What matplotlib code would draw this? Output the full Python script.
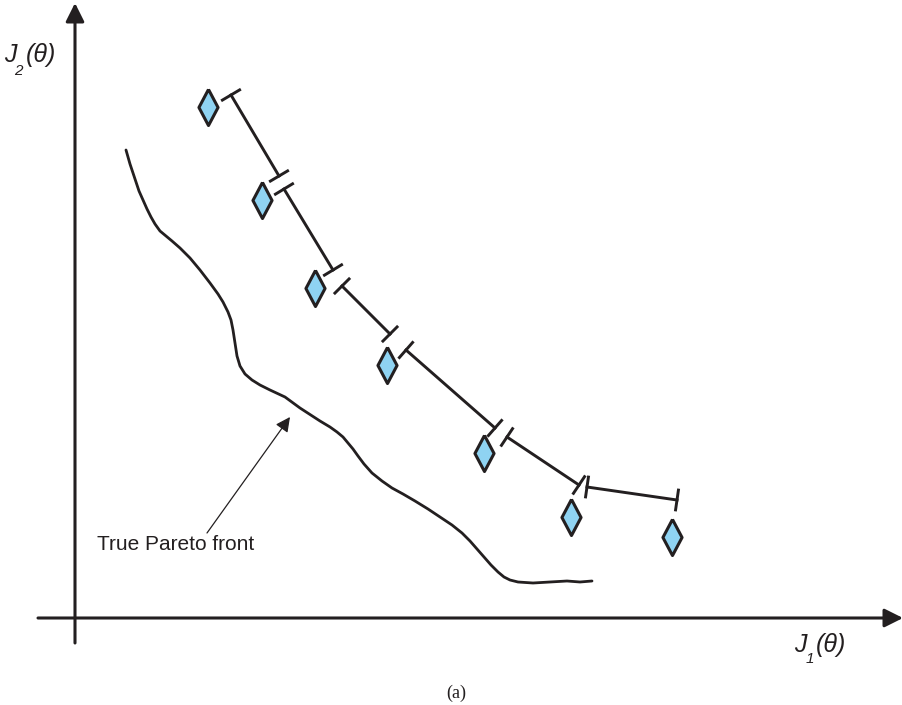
import numpy as np
import matplotlib as mpl
import matplotlib.pyplot as plt

# all coordinates are in picture units (x right, y down)
diamond_x = [208, 262, 315, 387, 484, 571, 672]
diamond_y = [107, 200, 288, 365, 453, 517, 537]

seg_x0 = [231, 284, 342, 406, 507, 587]
seg_y0 = [95, 189, 286, 350, 437, 487]
seg_x1 = [279, 333, 390, 495, 579, 677]
seg_y1 = [176, 270, 334, 428, 485, 500]

front_x = [126, 128, 130, 133, 136, 139, 143, 147, 151, 155, 160, 166, 172,
           180, 190, 200, 210, 218, 223, 228, 231, 233, 235, 237, 240, 245,
           252, 260, 270, 285, 300, 320, 330, 337, 343, 348, 353, 358, 364,
           372, 382, 392, 403, 415, 428, 440, 452, 462, 470, 477, 484, 491,
           498, 504, 510, 518, 533, 550, 567, 580, 592]
front_y = [150, 157, 164, 173, 182, 191, 200, 209, 217, 224, 231, 236, 241,
           248, 258, 270, 283, 294, 302, 312, 320, 330, 343, 356, 366, 374,
           380, 385, 390, 397, 408, 421, 427, 432, 437, 443, 449, 456, 464,
           473, 481, 488, 494, 501, 509, 517, 525, 533, 541, 549, 557, 565,
           572, 577, 580, 582, 583, 582, 581, 582, 581]

ink = '#231f20'
dpi = 100
fig = plt.figure(dpi=dpi, figsize=(903 / dpi, 705 / dpi))
ax = fig.add_axes([0, 0, 1, 1])
ax.set_xlim(0, 903)
ax.set_ylim(705, 0)
ax.axis('off')

# axes with arrows
arrow = dict(arrowstyle='-|>', lw=2.2, color=ink,
             mutation_scale=28, shrinkA=0, shrinkB=0)
ax.annotate('', xy=(75, 3), xytext=(75, 643), arrowprops=arrow)
ax.annotate('', xy=(903, 618), xytext=(38, 618), arrowprops=arrow)

# axis labels: J, subscript, (theta)
lab = dict(family='Liberation Sans', style='italic', color=ink,
           ha='left', va='baseline')
ax.text(4, 62, 'J', fontsize=18, **lab)
ax.text(14, 75, '2', fontsize=11, **lab)
ax.text(26, 62, '(θ)', fontsize=18, **lab)
ax.text(794, 652, 'J', fontsize=18, **lab)
ax.text(806, 663, '1', fontsize=11, **lab)
ax.text(816, 652, '(θ)', fontsize=18, **lab)

# true front
ax.plot(front_x, front_y, color=ink, lw=2.0, solid_capstyle='round',
        solid_joinstyle='round')

# segments with end caps
cap = 10
for x0, y0, x1, y1 in zip(seg_x0, seg_y0, seg_x1, seg_y1):
    ax.plot([x0, x1], [y0, y1], color=ink, lw=2.1)
    d = np.array([x1 - x0, y1 - y0], dtype=float)
    n = np.array([-d[1], d[0]]) / np.hypot(*d)
    for px, py in ((x0, y0), (x1, y1)):
        ax.plot([px - cap * n[0], px + cap * n[0]],
                [py - cap * n[1], py + cap * n[1]],
                color=ink, lw=2.1)

# diamonds
diamond = [(0, 1), (0.53, 0), (0, -1), (-0.53, 0), (0, 1)]
ax.plot(diamond_x, diamond_y, linestyle='none', marker=diamond,
        markersize=26, markerfacecolor='#8fd3f2', markeredgecolor=ink,
        markeredgewidth=2.2)

# annotation
ax.annotate('', xy=(290, 417), xytext=(207, 533),
            arrowprops=dict(arrowstyle='-|>', lw=0.9, color=ink,
                            mutation_scale=22, shrinkA=0, shrinkB=0))
ax.text(97, 545, 'True Pareto front', fontsize=15, family='Liberation Sans',
        ha='left', va='center', color=ink)

ax.text(456, 693, '(a)', fontsize=13, family='Liberation Serif',
        ha='center', va='center', color=ink)

fig.savefig('out.png')
